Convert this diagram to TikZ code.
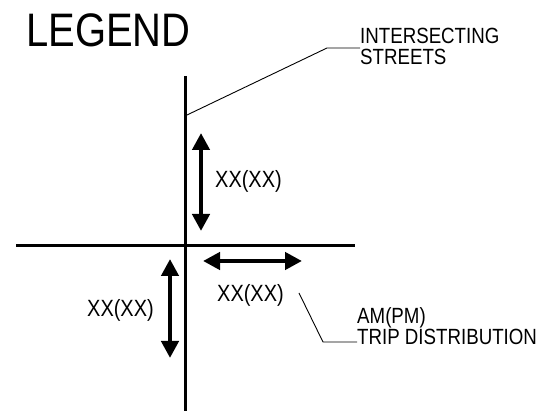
\documentclass[tikz,border=0pt]{standalone}
\usepackage{fontspec}
\setmainfont[FakeStretch=0.85]{Liberation Sans}
\usetikzlibrary{arrows.meta}
\begin{document}
\begin{tikzpicture}[x=1pt,y=-1pt,
  street/.style={line width=3pt},
  leader/.style={line width=0.9pt},
  flow/.style={line width=4.5pt,{Triangle[width=17pt,length=17pt]}-{Triangle[width=17pt,length=17pt]}},
  lbl/.style={inner sep=0pt,anchor=base west,font=\fontsize{23.5}{23.5}\selectfont},
  note/.style={inner sep=0pt,anchor=base west,align=left,font=\fontsize{22}{21}\selectfont}]
\useasboundingbox (0,0) rectangle (550,411);
% title
\node[inner sep=0pt,anchor=base west,font=\fontsize{47}{47}\selectfont] (title) at (26,47) {LEGEND};
% streets
\coordinate (vtop) at (185,76);
\coordinate (vbot) at (185,412);
\coordinate (hleft) at (16,245.3);
\coordinate (hright) at (355,245.3);
\draw[street] (vtop) -- (vbot);
\draw[street] (hleft) -- (hright);
% flow arrows
\coordinate (a1t) at (201,133);
\coordinate (a1b) at (201,231);
\draw[flow] (a1t) -- (a1b);
\coordinate (a2t) at (170,259);
\coordinate (a2b) at (170,358);
\draw[flow] (a2t) -- (a2b);
\coordinate (a3l) at (203,261);
\coordinate (a3r) at (302,261);
\draw[flow] (a3l) -- (a3r);
% labels
\node[lbl] (l1) at (215,188) {XX(XX)};
\node[lbl] (l2) at (87,317) {XX(XX)};
\node[lbl] (l3) at (217,302) {XX(XX)};
% notes
\node[note] (streets) at (360,65) {INTERSECTING\\STREETS};
\node[note] (trip) at (357,345) {AM(PM)\\TRIP DISTRIBUTION};
% leaders
\coordinate (s0) at (187,115);
\coordinate (s1) at (327,48);
\coordinate (s2) at (360,48);
\draw[leader] (s0) -- (s1) -- (s2);
\coordinate (t0) at (299,293);
\coordinate (t1) at (323,342);
\coordinate (t2) at (357,342);
\draw[leader] (t0) -- (t1) -- (t2);
\end{tikzpicture}
\end{document}
